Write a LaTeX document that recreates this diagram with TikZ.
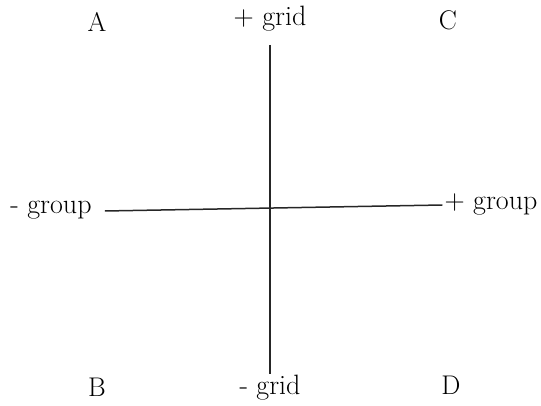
\documentclass[tikz,border=0pt]{standalone}
\usepackage{tikz}
\usetikzlibrary{positioning}
\tikzset{
	corner/.style={font=\fontsize{27}{32}\selectfont, inner sep=2pt},
	axislabel/.style={font=\fontsize{28}{33}\selectfont, inner sep=2pt},
	axisline/.style={line width=1.5pt, black!85},
}
\begin{document}
\begin{tikzpicture}[x=1pt, y=-1pt]
	\useasboundingbox (0,0) rectangle (541,406);
	% quadrant letters
	\node[corner] (qA) at (97,22) {A};
	\node[corner] (qC) at (448,20) {C};
	\node[corner] (qB) at (97,387) {B};
	\node[corner] (qD) at (451,385) {D};
	% axis ends
	\node[axislabel] (pgrid) at (270,19) {+ grid};
	\node[axislabel] (mgrid) at (270,388) {- grid};
	\node[axislabel] (mgroup) at (51,210) {- group};
	\node[axislabel] (pgroup) at (491,204) {+ group};
	\draw[axisline] ([yshift=-11pt]pgrid.south) -- ([yshift=-1pt]mgrid.north);
	\draw[axisline] ([xshift=11pt,yshift=-1pt]mgroup.east) -- ([yshift=-1pt]pgroup.west);
\end{tikzpicture}
\end{document}
